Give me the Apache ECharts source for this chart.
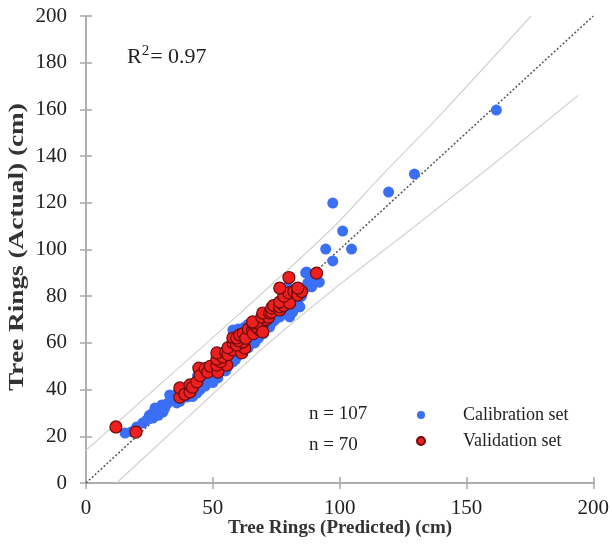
<!DOCTYPE html>
<html><head><meta charset="utf-8">
<script src="https://cdn.jsdelivr.net/npm/echarts@6/dist/echarts.min.js"></script>
<style>html,body{margin:0;padding:0;background:#fff}#c{width:612px;height:544px}</style>
</head><body><div id="c"></div>
<script>
var xTicks = [0, 50, 100, 150, 200];
var yTicks = [0, 20, 40, 60, 80, 100, 120, 140, 160, 180, 200];
var seriesNames = ['Calibration set', 'Validation set'];
var seriesCounts = ['n = 107', 'n = 70'];
var xTitle = 'Tree Rings (Predicted) (cm)';
var yTitle = 'Tree Rings (Actual) (cm)';
var r2Text = '0.97';

var calibration = [
 [15.4,21.4],[18,22],[20,24],[22.4,25.7],[24,27],[25,29],[26.4,27.8],[26.4,30],[27.2,32.1],[28,31],[28.5,29],
 [29.9,33.4],[30.3,30.4],[31,32],[32,34],[33,37.7],[33.9,35.5],[34,37],[35.8,34.3],[36.2,38.5],[37,35],
 [38,39],[39.8,36.8],[40,40],[41,38],[42,37],[43.7,38.5],[44,40],[45,40],[44,46],[46,42],[46,44.1],[47,41.5],
 [48,44],[48,48],[49.6,46.3],[50,43],[50,47],[52,45],[52,51],[53,48],[53.9,53.5],[55,48],[55,56],[56,50],
 [57.9,51.8],[57,55],[58,56],[59,53],[58,62],[60,57],[61,58],[57.9,65.5],[60,66],[61.8,64.2],[62,61],
 [62.6,66.8],[62.6,64.2],[63,60],[64,68],[65,63],[65.4,62.1],[66.5,60],[64,58],[67,63],[67,68],[68,62],
 [69,66],[70,64],[70,71],[71,68],[72.4,66.8],[73,70],[73.6,69],[74.4,69.8],[75,72],[75,76],[76.4,71.1],
 [77.2,72.8],[78,74],[78,78],[80.3,71.1],[80.3,72.8],[81.5,73.2],[82,78],[82,80],[83.5,76.7],[84.3,75.4],
 [84.3,79.7],[85,80],[86,83],[79.5,84],[87.4,84],[87.4,85.6],[88,86],[89,84],[90,88],[92,86],[87,90.4],
 [86.6,90],[94.5,100.2],[97.3,95.1],[97.3,119.9],[101.2,107.9],[104.7,100.2],[119.3,124.6],[129.5,132.3],
 [161.8,159.7]
];
var validation = [
 [11.8,24],[19.7,21.8],[37,36.8],[37,40.7],[39,38],[41,39],[41,42],[42,41],[43.7,43.3],[44.5,49.2],[45,46],
 [47,49],[48,47.5],[49,50],[52,47.5],[51.6,50.5],[55.5,50.5],[53,52],[51.6,53.1],[54,54],[51.6,55.7],
 [55.1,56.1],[56,55],[57.9,57],[56,58],[61.4,55.7],[62.6,57.8],[58,60],[59.8,60],[57.9,62.1],[59.4,59.1],
 [61.8,60.4],[60,61],[59.4,62.1],[60.6,63.4],[62,64],[63,62],[64,66],[65.7,65.5],[66,64],[68.5,65.5],
 [67,67],[65.7,68.5],[69.3,66.8],[69.7,64.7],[65.7,69],[71,70],[69.3,71.1],[72,71],[69.7,72.8],[72.4,72.8],
 [73.2,73.2],[73.2,75],[74,76],[76.4,74.1],[76.4,75.4],[78,76],[76.4,77.5],[80,78.8],[80.3,77.1],[78,80],
 [80,81.4],[82,82],[83.5,81.4],[83.5,80.5],[85,82],[76.4,83.5],[83.5,83.5],[80,88],[90.9,89.9]
];
var identityLine = [[0,0],[200,200]];
var upperBand = [[0,14],[30,43],[60,72],[97,109],[116,131],[140,158],[175.5,200]];
var lowerBand = [[12,0],[40,28],[70,58],[100,85],[125,106],[160,136],[194,166]];

var serif = '"Liberation Serif","DejaVu Serif",serif';
var blue = '#3a6ff6', red = '#ee1f1f';
var axisColor = '#a8a8a8';

var chart = echarts.init(document.getElementById('c'), null, {renderer:'canvas'});
function axisBase(extra){
  return Object.assign({
    type:'value', min:0, max:200, splitLine:{show:false},
    axisLine:{show:true, lineStyle:{color:axisColor, width:1.5}},
    axisTick:{show:true, length:6, lineStyle:{color:axisColor, width:1.5}}
  }, extra);
}
var gridPos = {left:86, right:18, top:16, bottom:61, containLabel:false};
chart.setOption({
  animation:false,
  backgroundColor:'#fff',
  grid:[Object.assign({}, gridPos), Object.assign({}, gridPos)],
  xAxis:[
    axisBase({gridIndex:0, interval:50,
      axisLabel:{margin:15, fontFamily:serif, fontSize:21, color:'#222',
        formatter:function(v){return xTicks.indexOf(v)>=0?String(v):'';}}}),
    axisBase({gridIndex:1, interval:50, axisTick:{show:true, inside:true, length:6, lineStyle:{color:axisColor, width:1.5}}, axisLabel:{show:false}})
  ],
  yAxis:[
    axisBase({gridIndex:0, interval:20,
      axisLabel:{margin:19, fontFamily:serif, fontSize:21, color:'#222',
        formatter:function(v){return yTicks.indexOf(v)>=0?String(v):'';}}}),
    axisBase({gridIndex:1, interval:20, axisTick:{show:true, inside:true, length:6, lineStyle:{color:axisColor, width:1.5}}, axisLabel:{show:false}})
  ],
  legend:{
    data:seriesNames, orient:'vertical', left:411, top:401, itemWidth:8, itemHeight:8, itemGap:8,
    icon:'circle', textStyle:{fontFamily:serif, fontSize:18, color:'#222', padding:[0,0,0,33]}
  },
  graphic:[
    {type:'text', left:309, top:405, style:{text:seriesCounts[0], font:'19px '+serif, fill:'#222'}},
    {type:'text', left:309, top:436, style:{text:seriesCounts[1], font:'19px '+serif, fill:'#222'}},
    {type:'text', left:127, top:44, style:{rich:{a:{fontFamily:serif, fontSize:22, fill:'#222'}, s:{fontFamily:serif, fontSize:15, verticalAlign:'top', fill:'#222', padding:[0,1,12,0]}}, text:'{a|R}{s|2}{a|= '+r2Text+'}'}},
    {type:'text', x:340, y:528, style:{text:xTitle, font:'bold 19px '+serif, fill:'#333', align:'center', verticalAlign:'middle'}},
    {type:'text', x:18, y:247, rotation:Math.PI/2, scaleX:1.3, style:{text:yTitle, font:'bold 21px '+serif, fill:'#333', align:'center', verticalAlign:'middle'}}
  ],
  series:[
    {type:'line', data:upperBand, symbol:'none', smooth:0.3, lineStyle:{color:'#d4d4d4', width:1.3}, silent:true, z:1},
    {type:'line', data:lowerBand, symbol:'none', smooth:0.3, lineStyle:{color:'#d4d4d4', width:1.3}, silent:true, z:1},
    {type:'line', data:identityLine, symbol:'none', lineStyle:{color:'#555', width:1.5, type:[2,2]}, silent:true, z:2},
    {name:seriesNames[0], type:'scatter', data:calibration, symbolSize:11, itemStyle:{color:blue, opacity:1}, z:3},
    {name:seriesNames[1], type:'scatter', data:validation, symbolSize:12, itemStyle:{color:red, borderColor:'#6e0c0c', borderWidth:1.2, opacity:1}, z:4}
  ]
});
</script></body></html>
